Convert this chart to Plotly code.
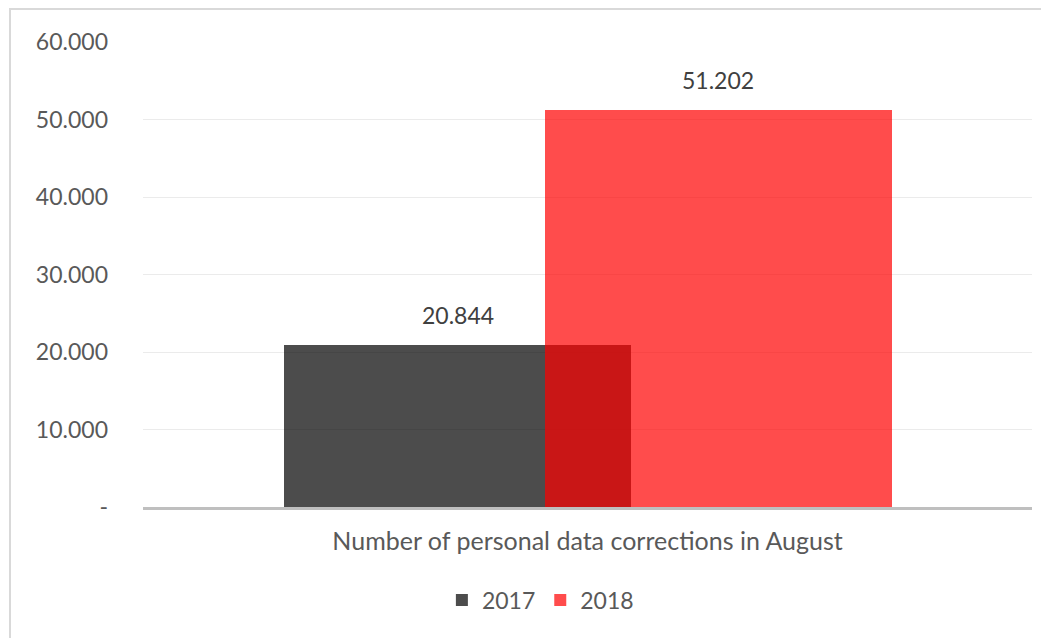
import plotly.graph_objects as go

category = ["Number of personal data corrections in August"]
series_names = ["2017", "2018"]
values_2017 = [20844]
values_2018 = [51202]
value_labels_2017 = ["20.844"]
value_labels_2018 = ["51.202"]
tick_values = [0, 10000, 20000, 30000, 40000, 50000, 60000]
tick_labels = ["-", "10.000", "20.000", "30.000", "40.000", "50.000", "60.000"]

bar_width = 0.39
offset_2017 = -0.341
offset_2018 = -0.048

FONT = "Lato"
TXT = "#595959"

fig = go.Figure()
fig.add_trace(go.Bar(
    x=category, y=values_2017, name=series_names[0],
    marker=dict(color="rgba(0,0,0,0.7)", line=dict(width=0)),
    width=bar_width, offset=offset_2017,
))
fig.add_trace(go.Bar(
    x=category, y=values_2018, name=series_names[1],
    marker=dict(color="rgba(255,0,0,0.7)", line=dict(width=0)),
    width=bar_width, offset=offset_2018,
))

for off, vals, labs in [(offset_2017, values_2017, value_labels_2017),
                        (offset_2018, values_2018, value_labels_2018)]:
    fig.add_annotation(
        x=off + bar_width / 2, y=vals[0], xref="x", yref="y",
        text=labs[0], showarrow=False, yshift=30,
        font=dict(family=FONT, size=23, color="#404040"),
    )

fig.add_shape(
    type="rect", xref="paper", yref="paper",
    x0=-0.1496, x1=1.03, y0=-0.31, y1=1.071,
    line=dict(color="#D9D9D9", width=2), fillcolor="rgba(0,0,0,0)", layer="below",
)

fig.update_layout(
    width=1049, height=638,
    margin=dict(l=135, r=25, t=34, b=139),
    paper_bgcolor="white", plot_bgcolor="white",
    barmode="overlay", bargap=0,
    font=dict(family=FONT, size=23, color=TXT),
    showlegend=True,
    legend=dict(orientation="h", x=0.447, xanchor="center", y=-0.154, yanchor="top",
                font=dict(family=FONT, size=23, color=TXT), itemwidth=30,
                traceorder="normal"),
    xaxis=dict(
        type="category", range=[-0.5, 0.5],
        showline=True, linecolor="#BFBFBF", linewidth=3,
        showgrid=False, ticks="", tickfont=dict(family=FONT, size=25, color=TXT),
        ticklabelstandoff=10,
    ),
    yaxis=dict(
        range=[0, 60000], tickvals=tick_values, ticktext=tick_labels,
        showgrid=True, gridcolor="#EBEBEB", gridwidth=1,
        zeroline=False, showline=False, ticks="",
        tickfont=dict(family=FONT, size=23, color=TXT),
        ticklabelstandoff=34,
    ),
)

fig.write_html("out.html")
